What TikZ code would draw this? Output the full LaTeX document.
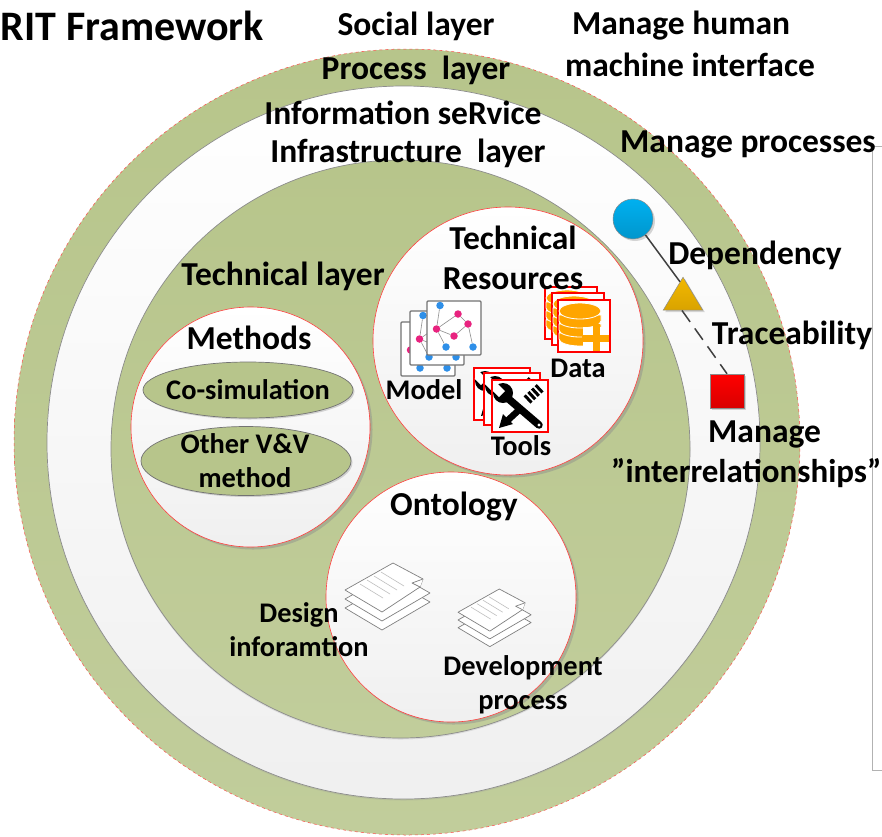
\documentclass[tikz,border=0pt]{standalone}
\usepackage{fontspec}
\setmainfont{Carlito}
\usetikzlibrary{shapes.geometric, shadows}
\definecolor{layergreen}{HTML}{B7C58B}
\definecolor{paleshade}{HTML}{C1CD9B}
\definecolor{dataorange}{HTML}{FFA500}
\definecolor{netblue}{HTML}{2E8FE8}
\definecolor{netpink}{HTML}{E8237F}
\definecolor{markblue}{HTML}{00B0F0}
\definecolor{markblue2}{HTML}{0096CC}
\definecolor{markgold}{HTML}{F2B800}
\definecolor{markgold2}{HTML}{D9A300}
\tikzstyle{ring} = [ellipse, inner sep=0pt, draw=black!45, line width=0.7pt,
drop shadow={shadow xshift=0pt, shadow yshift=-1.5pt, fill=black!40, opacity=.25}]
\tikzstyle{bubble} = [ellipse, inner sep=0pt, draw=red!75, line width=0.6pt, top color=white, bottom color=black!6,
drop shadow={shadow xshift=2.5pt, shadow yshift=-2.5pt, fill=black!45, opacity=.45}]
\tikzstyle{method} = [ellipse, inner sep=0pt, draw=black!55, line width=0.7pt, fill=layergreen,
drop shadow={shadow xshift=1.5pt, shadow yshift=-1.5pt, fill=black!40, opacity=.4}]
\tikzstyle{bigtext} = [font=\fontsize{33.5}{39.5}\selectfont\bfseries, align=center, inner sep=0pt, text=black]
\tikzstyle{smalltext} = [font=\fontsize{28.4}{34}\selectfont\bfseries, align=center, inner sep=0pt, text=black]
\tikzstyle{marker} = [inner sep=0pt, draw=black!45, line width=0.5pt,
drop shadow={shadow xshift=2pt, shadow yshift=-2pt, fill=black!40, opacity=.4}]
\tikzstyle{netnode} = [circle, inner sep=0pt, minimum size=7.5pt]
\tikzstyle{sheet} = [draw=black!50, line width=0.7pt, fill=white, line join=round]
\tikzstyle{link} = [line width=1.5pt, draw=black!75]
\tikzset{
modelcard/.pic={
  \draw[draw=black!55, fill=white, line width=1.2pt, rounded corners=1pt] (0,0) rectangle (54,54);
  \node (n1) [netnode, fill=netblue] at (13,4.5) {};
  \node (n2) [netnode, fill=netpink] at (31,13) {};
  \node (n3) [netnode, fill=netpink] at (41,23) {};
  \node (n4) [netnode, fill=netpink] at (9.5,28) {};
  \node (n5) [netnode, fill=netpink] at (27,35) {};
  \node (n6) [netnode, fill=netblue] at (19,46) {};
  \node (n7) [netnode, fill=netblue] at (46,46) {};
  \foreach \a/\b in {n1/n4, n4/n2, n2/n3, n3/n5, n5/n4, n4/n6, n3/n7}
    \draw[black!45, line width=0.6pt] (\a) -- (\b);
},
datacard/.pic={
  \draw[draw=red, fill=white, line width=1.4pt] (0,0) rectangle (52,52);
  \foreach \h in {33,24,15}
    \fill[dataorange, draw=white, line width=0.8pt] (1,\h) -- (1,\h+6) arc[start angle=180, end angle=360, x radius=21, y radius=-7] -- (43,\h) -- cycle;
  \fill[dataorange, draw=white, line width=0.8pt] (22,11) ellipse[x radius=21, y radius=8];
  \fill[white] (25,27) rectangle (51.2,51.2);
  \draw[dataorange, line width=7pt] (38,24) -- (38,51) (24,38) -- (51,38);
},
toolcard/.pic={
  \draw[draw=red, fill=white, line width=1.4pt] (0,0) rectangle (56,52);
  \draw[black, line width=7.5pt, line cap=round] (12,15) -- (47,45);
  \fill[black] (11,13) circle[radius=10];
  \fill[white] (3,1) -- (13,11) -- (7,17) -- (0.8,11) -- cycle;
  \fill[white] (47,45) circle[radius=1.7];
  \draw[black, line width=6.5pt] (15,41) -- (28,29);
  \fill[black] (7,48) -- (11,34) -- (21,44) -- cycle;
  \draw[black, line width=10pt, dash pattern=on 3pt off 2pt] (35,20) -- (49,7);
},
docstack/.pic={
  \foreach \d in {18,9}
    \draw[sheet] (48,\d) -- (85,21+\d) -- (37,49+\d) -- (0,27+\d) -- cycle;
  \draw[sheet] (48,0) -- (78,16) -- (75,24) -- (37,49) -- (0,27) -- cycle;
  \draw[sheet] (78,16) -- (67,20) -- (75,24);
  \foreach \t in {0,1,2,3}
    \draw[black!25, line width=0.6pt] (15+\t*7,21-\t*4) -- (38+\t*7,35-\t*4);
}
}
\begin{document}
\begin{tikzpicture}[x=1pt, y=-1pt]
\useasboundingbox (0,0) rectangle (882,836);

% side panel
\draw[black!30, line width=1pt] (882,146) -- (872,146) -- (872,770) -- (882,770);

% layers
\node (social) [ellipse, inner sep=0pt, minimum width=786pt, minimum height=786pt, top color=layergreen, bottom color=paleshade, draw=red!70, dashed, line width=0.5pt] at (407,442) {};
\node (service) [ring, minimum width=713pt, minimum height=713pt, top color=white, bottom color=black!6] at (403.5,442.5) {};
\node (technical) [ring, minimum width=579pt, minimum height=578pt, top color=layergreen, bottom color=paleshade] at (400.5,449) {};

% resources
\node (methods) [bubble, minimum width=239pt, minimum height=240pt] at (250.5,427) {};
\node (resources) [bubble, minimum width=270pt, minimum height=268pt] at (508,341) {};
\node (ontology) [bubble, minimum width=250pt, minimum height=250pt] at (451,597) {};
\node (cosim) [method, minimum width=210pt, minimum height=56pt] at (248,390) {};
\node (other) [method, minimum width=210pt, minimum height=69pt] at (246,461) {};

% icons
\pic at (401,322) {modelcard};
\pic at (410,311) {modelcard};
\pic at (427,301) {modelcard};
\pic at (545,287) {datacard};
\pic at (552,293) {datacard};
\pic at (558,300) {datacard};
\pic at (474,368) {toolcard};
\pic at (484,373) {toolcard};
\pic at (492,380) {toolcard};
\pic at (345,563) {docstack};
\pic[xscale=0.86, yscale=0.86] at (458,589) {docstack};

% markers
\node (circ) [marker, circle, minimum size=40pt, top color=markblue, bottom color=markblue2] at (633,219) {};
\node (tri) [marker, isosceles triangle, isosceles triangle apex angle=62, shape border rotate=90, minimum height=33pt, minimum width=38pt, top color=markgold, bottom color=markgold2] at (683,299) {};
\node (squ) [marker, rectangle, minimum size=34pt, top color=red, bottom color=red!85!black] at (727,391) {};
\draw [link] (circ.-52) -- (tri.100);
\draw [link, dash pattern=on 14pt off 8pt] (tri.265) -- (squ.north);

% labels
\node (title) [bigtext, font=\fontsize{42}{46}\selectfont\bfseries, anchor=east] at (264,26) {RIT Framework};
\node (lsocial) [bigtext] at (416,26) {Social layer};
\node (lhuman) [bigtext] at (681,26) {Manage human};
\node (lmachine) [bigtext] at (690,65) {machine interface};
\node (lprocess) [bigtext] at (416,70) {Process\ \ layer};
\node (linfo) [bigtext] at (403,113) {Information seRvice};
\node (linfra) [bigtext] at (408,153) {Infrastructure\ \ layer};
\node (lmanage) [bigtext] at (748,144) {Manage processes};
\node (ltech) [bigtext] at (283,276) {Technical layer};
\node (ldep) [bigtext] at (755,255) {Dependency};
\node (ltrace) [bigtext] at (792,335) {Traceability};
\node (lmanint) [bigtext, anchor=west] at (708,434) {Manage};
\node (linter) [bigtext, font=\fontsize{33}{39.5}\selectfont\bfseries, anchor=west] at (611,473) {”interrelationships”};
\node (lres) [bigtext] at (513,258) {Technical\\Resources};
\node (lmeth) [bigtext] at (249,338) {Methods};
\node (lonto) [bigtext] at (454,507) {Ontology};
\node (lcosim) [smalltext] at (248,390) {Co-simulation};
\node (lother) [smalltext] at (245,461) {Other V\&V\\method};
\node (lmodel) [smalltext] at (424,390) {Model};
\node (ldata) [smalltext] at (578,368) {Data};
\node (ltools) [smalltext] at (521,446) {Tools};
\node (ldesign) [smalltext] at (299,630) {Design\\inforamtion};
\node (ldevel) [smalltext] at (523,685) {Development\\process};

\end{tikzpicture}
\end{document}
